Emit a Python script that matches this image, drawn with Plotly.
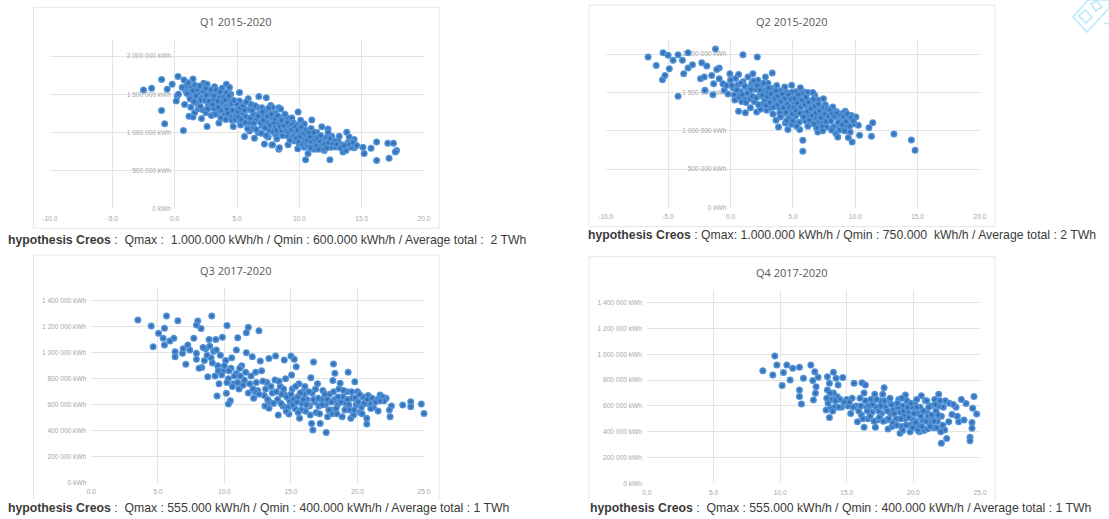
import plotly.graph_objects as go

W, H = 1109, 519

q1_title = "Q1 2015-2020"
q2_title = "Q2 2015-2020"
q3_title = "Q3 2017-2020"
q4_title = "Q4 2017-2020"

# (temperature, thousand kWh)
q1_points = [(-2.5,1557),(-1.85,1580),(-1.05,1695),(-1.05,1288),(-0.8,1115),(0.7,1027),(-0.6,1566),(-0.2,1632),(0.27,1734),(0.2,1478),
(0.13,1412),(0.3,1500),(0.75,1686),(1.47,1700),(0.95,1610),(1.35,1588),(0.8,1367),(2.33,1646),(2.6,1632),(3.2,1600),(4.15,1632),(1.2,1478),
(1.9,1522),(2.15,1456),(2.8,1500),(3.35,1500),(4.15,1522),(4.3,1434),(1.75,1390),(2.7,1367),(3.4,1354),(4.0,1367),(4.4,1345),(1.15,1213),
(1.47,1204),(2.15,1182),(2.6,1080),(3.55,1124),(2.95,1222),(3.4,1257),(4.0,1243),(4.7,1080),(5.2,1146),(5.2,1522),(5.2,1412),(5.9,1443),
(6.15,1367),(6.75,1470),(7.35,1456),(7.0,1323),(7.7,1354),(8.35,1323),(4.95,1301),(5.6,948),(6.4,926),(7.2,850),(8.35,780),(7.8,837),
(6.3,1058),(9.9,1270),(11,1164),(10.95,1053),(11.8,1074),(12.3,1045),(12.3,1000),(13.8,1004),(14,943),(14.4,910),(13.2,950),(16.2,877),
(17.1,860),(17.55,860),(17.8,766),(17.7,746),(17.2,664),(16.2,635),(12.45,643),(10.5,643),(8.4,800),(7.85,840),(8.5,1307),(7.85,1328),
(15.1,807),(15.75,795),(15.2,725),(13.5,746),(13.75,766),(14.4,800),(9.3,950),(9.6,890),(9.87,787),(10.4,807),(10.7,725),(11.07,787),
(12,766),(12.55,807),(13.1,890),(9.3,1156),(9.05,1188),(8.1,971),(8.8,1033),(10,992),(10.3,910),(10.67,828),(11.3,869),(11.75,910),
(12.15,930),(12.8,890),(13.9,869),(14.15,807),(0.9,1540),(1.1,1650),(1.6,1620),(1.8,1560),(2.0,1610),(2.3,1540),(2.5,1580),(2.9,1560),
(3.1,1430),(3.3,1560),(3.6,1450),(3.8,1580),(3.9,1460),(4.4,1590),(4.5,1500),(1.3,1330),(1.6,1260),(1.9,1310),(2.2,1300),(2.5,1260),
(2.9,1320),(3.2,1310),(3.7,1290),(4.2,1300),(4.5,1210),(4.6,1160),(4.9,1220),(5.0,1370),(5.4,1250),(5.7,1210),(5.9,1300),(6.0,1130),
(6.3,1240),(6.5,1160),(6.6,1330),(6.8,1250),(7.0,1090),(7.2,1210),(7.3,1290),(7.4,1130),(7.6,1030),(7.8,1190),(8.0,1080),(8.1,1250),
(8.3,1130),(8.5,1020),(8.7,1200),(8.9,1110),(9.0,960),(9.2,1070),(9.4,1190),(9.5,1130),(9.6,1010),(9.8,1100),(10.1,1160),(10.2,1020),
(10.4,1110),(10.6,960),(10.8,880),(11.1,950),(11.4,1000),(11.6,830),(12.0,880),(6.0,1020),(6.7,1000),(7.5,940),(8.2,920),(5.3,1100),
(9.1,840),(10.0,850),(11.2,780),(11.9,820),(12.6,950),(13.4,840),
(0.6,1590),(1.0,1510),(1.25,1440),(1.45,1545),(1.55,1405),(1.7,1480),(2.05,1345),(2.1,1425),(2.45,1420),(2.55,1490),(2.65,1310),(2.75,1410),
(3.05,1365),(3.15,1480),(3.25,1240),(3.45,1410),(3.5,1330),(3.65,1530),(3.7,1190),(3.85,1395),(4.05,1425),(4.1,1170),(4.25,1250),(4.35,1480),
(4.55,1380),(4.65,1290),(4.75,1420),(4.85,1170),(5.05,1270),(5.1,1200),(5.25,1320),(5.35,1165),(5.5,1350),(5.6,1290),(5.65,1130),(5.75,1400),
(5.85,1050),(6.05,1190),(6.2,1290),(6.35,1120),(6.45,1350),(6.55,1040),(6.7,1215),(6.9,1130),(6.95,990),(7.05,1270),(7.1,1160),(7.25,1060),
(7.35,960),(7.45,1210),(7.55,1320),(7.65,1100),(7.75,1240),(7.9,1010),(7.95,1130),(8.05,1180),(8.15,1030),(8.25,1220),(8.45,1080),(8.55,1160),
(8.65,960),(8.75,1090),(8.85,1240),(8.95,1020),(9.05,1130),(9.15,1010),(9.25,900),(9.35,1040),(9.45,1100),(9.55,950),(9.65,1070),(9.75,930),
(9.85,1030),(9.95,880),(10.05,950),(10.15,1070),(10.25,850),(10.35,990),(10.45,880),(10.55,1030),(10.65,900),(10.75,1000),(10.85,940),(10.9,800),
(11.0,880),(11.15,1000),(11.25,900),(11.35,830),(11.45,930),(11.55,780),(11.65,880),(11.7,960),(11.85,840),(11.95,780),(12.05,850),(12.2,800),
(12.35,870),(12.45,920),(12.7,850),(12.9,810),(13.0,845),(13.3,800),(13.6,830),(14.0,850),(14.3,870),(14.6,830)]

q2_points = [(-6.6,1961),(-5.95,1852),(-5.4,2017),(-5,1983),(-5.45,1666),(-5.25,1722),(-4.9,1809),(-4.6,1918),(-4.2,1991),(-3.4,2017),
(-3.85,1918),(-3.75,1744),(-3.4,1818),(-3.05,1861),(-4.2,1449),(-2.3,1887),(-1.9,1844),(-1.2,2065),(1,1991),(2.15,1961),(-2.4,1679),
(-2.05,1527),(-1.4,1470),(-1.5,1722),(-0.9,1818),(-0.9,1679),(-1.35,1614),(-0.6,1614),(-0.5,1527),(-0.05,1744),(0.65,1735),(1.8,1744),
(3.35,1753),(2.8,1700),(0.65,1253),(1.2,1236),(2.1,1245),(2.9,1267),(3.65,1136),(3.85,1050),(4.6,1015),(4.9,1084),(5.55,1015),(5.8,876),
(5.8,733),(7,984),(7.7,1050),(8.45,963),(8.6,920),(9.6,984),(9.75,854),(9.45,911),(10.35,941),(11.3,928),(10.25,1071),(10.05,1180),
(11.4,1106),(11.1,1041),(13.1,958),(14.5,880),(14.8,746),(4.9,1592),(4.35,1570),(5.9,1505),(6.75,1462),(7.45,1418),(8.2,1310),(9.2,1253),
(9.3,1201),(-2.1,1700),(-1.1,1800),(-0.3,1590),(0.0,1660),(0.2,1560),(0.3,1470),(0.4,1680),(0.6,1600),(0.8,1510),(1.0,1640),(1.1,1420),
(1.3,1560),(1.4,1700),(1.5,1480),(1.7,1620),(1.9,1380),(2.0,1540),(2.2,1660),(2.3,1450),(2.5,1590),(2.6,1350),(2.8,1520),(3.0,1620),
(3.1,1420),(3.2,1300),(3.3,1550),(3.5,1480),(3.6,1380),(3.7,1590),(3.9,1300),(4.0,1520),(4.1,1430),(4.2,1220),(4.3,1340),(4.5,1500),
(4.6,1390),(4.7,1170),(4.8,1270),(5.0,1460),(5.1,1350),(5.2,1190),(5.3,1420),(5.4,1280),(5.5,1110),(5.6,1360),(5.7,1490),(5.9,1230),
(6.0,1130),(6.1,1410),(6.2,1310),(6.3,1190),(6.4,1090),(6.5,1370),(6.6,1260),(6.8,1160),(6.9,1040),(7.0,1400),(7.1,1300),(7.2,1220),
(7.3,1090),(7.5,1170),(7.6,1340),(7.8,1240),(7.9,1130),(8.0,1200),(8.3,1180),(8.4,1060),(8.5,1250),(8.7,1190),(8.8,1040),(8.9,1150),
(9.0,1230),(9.1,1100),(9.3,1050),(9.5,1150),(9.7,1200),(9.9,1090),(4.4,1100),(5.2,1510),(5.6,1560),(6.2,1500),(3.0,1500),(1.6,1300),(0.9,1380),
(2.4,1280),(3.4,1220),(4.9,1500),(6.6,1500),
(-0.2,1480),(0.1,1590),(0.35,1400),(0.5,1530),(0.7,1440),(0.85,1620),(0.95,1470),(1.15,1580),(1.25,1370),(1.35,1490),(1.55,1420),(1.65,1540),
(1.75,1450),(1.85,1650),(2.05,1430),(2.15,1590),(2.25,1340),(2.35,1530),(2.55,1460),(2.65,1620),(2.75,1400),(2.85,1330),(2.95,1440),(3.05,1560),
(3.15,1370),(3.25,1480),(3.45,1310),(3.55,1420),(3.65,1520),(3.75,1340),(3.8,1450),(3.95,1230),(4.05,1380),(4.15,1480),(4.25,1300),(4.35,1420),
(4.45,1240),(4.55,1350),(4.65,1470),(4.75,1310),(4.85,1410),(4.95,1220),(5.05,1300),(5.15,1420),(5.25,1260),(5.35,1360),(5.45,1470),(5.55,1230),
(5.65,1310),(5.75,1400),(5.85,1180),(5.95,1340),(6.05,1440),(6.15,1250),(6.25,1370),(6.35,1140),(6.45,1290),(6.55,1200),(6.65,1410),(6.75,1320),
(6.85,1230),(6.95,1110),(7.05,1350),(7.15,1260),(7.25,1170),(7.35,1050),(7.45,1300),(7.55,1220),(7.65,1120),(7.75,1290),(7.85,1190),(7.95,1270),
(8.05,1130),(8.15,1220),(8.25,1050),(8.35,1190),(8.55,1230),(8.65,1110),(8.75,1010),(8.85,1200),(8.95,1080),(9.05,1180),(9.15,1000),(9.25,1120),
(9.35,1220),(9.55,1060),(9.65,1170),(9.85,1130),(5.0,1130),(5.3,1060),(6.2,1060),(6.7,1090),(7.4,1000),(8.1,1010),(4.0,1180),(4.5,1130)]

q3_points = [(3.5,1251),(4.5,1205),(4.65,1046),(5.65,1282),(6.5,1246),(8,1243),(7.9,1213),(8.25,1185),(9.05,1282),(10.2,1208),(11.8,1195),
(11.65,1154),(12.6,1169),(11,1115),(9.85,1118),(5.5,1187),(5.05,1149),(5.4,1110),(5.5,1059),(6.2,1110),(7.7,1110),(8.85,1102),(9.35,1102),
(6.3,1008),(6.3,969),(6.85,995),(7.25,1059),(7.1,910),(7.9,995),(7.9,949),(8.3,885),(8.75,815),(9.45,667),(10.15,687),(10.45,631),(10.3,605),
(10.9,1020),(11.65,1000),(12.1,969),(12.7,936),(13.35,956),(13.85,974),(14.5,944),(15,974),(15.25,949),(15.4,892),(16.7,928),(18.2,913),
(18.3,841),(19.3,849),(18.15,785),(19.8,777),(18.7,764),(16.5,808),(15.05,828),(23.4,597),(24,623),(24,585),(24.8,605),(25,533),(22.55,590),
(22.4,559),(22.45,508),(21.7,674),(22.15,649),(21.55,551),(20.7,451),(20.7,495),(20.95,605),(18.85,508),(19.5,495),(17.75,508),(17.65,387),
(16.65,405),(17.2,456),(16.55,456),(15.65,495),(14.85,528),(14.05,520),(13.35,572),(5.9,1090),(6.9,1030),(7.4,1020),(8.6,1030),(8.9,1050),
(9.0,960),(9.2,1010),(9.5,900),(9.7,980),(9.9,860),(10.1,940),(10.3,800),(10.5,880),(10.7,760),(10.9,840),(11.1,720),(11.3,900),(11.5,790),
(11.8,690),(12.0,820),(12.2,650),(12.4,770),(12.5,710),(12.8,860),(13.0,670),(13.2,770),(13.4,620),(13.6,690),(13.8,790),(14.0,640),(14.2,740),
(14.4,590),(14.5,680),(14.6,800),(14.9,630),(15.1,720),(15.3,570),(15.5,660),(15.6,760),(15.8,610),(15.9,700),(16.1,550),(16.2,640),(16.4,590),
(16.6,690),(16.8,620),(16.9,540),(17.0,760),(17.3,640),(17.4,710),(17.6,600),(17.9,680),(18.0,560),(18.3,640),(18.5,600),(18.6,720),(18.9,660),
(19.1,610),(19.2,700),(19.4,560),(19.6,650),(19.9,600),(20.0,700),(20.2,540),(20.4,660),(20.6,610),(20.8,670),(21.2,580),(21.5,640),(21.9,660),
(22.0,630),(8.1,880),(8.5,940),(9.3,820),(9.6,760),(10.6,740),(11.2,820),(12.3,700),(14.3,680),(15.2,640),(16.0,680),(17.1,590),(18.1,530),
(19.7,520),(20.3,580),
(8.4,1040),(8.7,980),(9.1,920),(9.4,1020),(9.55,860),(9.8,830),(10.0,900),(10.2,770),(10.35,860),(10.55,960),(10.75,820),(11.0,770),(11.15,880),
(11.4,750),(11.6,850),(11.9,760),(12.15,720),(12.35,850),(12.6,680),(12.9,780),(13.1,720),(13.25,640),(13.5,740),(13.7,610),(13.9,700),(14.1,780),
(14.25,610),(14.45,720),(14.7,660),(14.8,580),(15.0,680),(15.15,600),(15.35,740),(15.45,620),(15.7,690),(15.75,560),(15.95,640),(16.05,740),
(16.25,600),(16.35,700),(16.45,520),(16.7,640),(16.85,720),(17.05,650),(17.15,530),(17.35,600),(17.55,680),(17.75,640),(17.85,560),(18.05,620),
(18.2,700),(18.4,570),(18.55,660),(18.75,620),(18.95,710),(19.05,560),(19.25,640),(19.35,600),(19.55,700),(19.75,560),(19.85,650),(20.05,620),
(20.15,680),(20.35,530),(20.5,610),(20.75,640),(21.0,570),(21.1,650),(21.35,620),(21.7,630),(13.05,590),(14.65,550),(15.55,540),(16.15,600),(18.45,530)]

q4_points = [(8.7,873),(9.45,840),(9.6,987),(9.75,917),(10.15,757),(10.25,858),(10.5,917),(10.75,801),(10.95,891),(11.45,899),(11.75,814),
(11.45,723),(11.45,672),(11.6,615),(12.3,917),(12.6,865),(12.85,821),(12.45,796),(12.7,749),(12.65,698),(12.5,646),(13.7,775),(14,860),
(13.55,826),(14.2,814),(14.7,819),(14.35,762),(15.55,775),(16.15,780),(16.4,762),(17.8,741),(13.55,723),(13.45,568),(13.7,509),(13.8,581),
(24.55,672),(24.45,581),(24.75,537),(24.4,472),(24.4,426),(24.25,356),(24.25,330),(22.1,310),(22.5,348),(22.35,413),(21.9,691),(20.6,679),
(19.4,684),(23.6,650),(23.95,619),(23.2,590),(22.65,477),(22.9,534),(23.4,477),(23.8,490),(19,387),(19.75,400),(20.45,400),(16.3,434),
(17.15,434),(18.1,421),(15.8,477),(13.9,650),(14.1,590),(14.3,670),(14.6,590),(15.0,650),(15.3,540),(15.4,660),(15.7,600),(16.0,660),(16.1,530),
(16.3,700),(16.5,590),(16.6,500),(16.8,650),(16.9,550),(17.1,690),(17.2,590),(17.3,490),(17.5,640),(17.6,540),(17.7,690),(17.9,590),(18.0,490),
(18.2,640),(18.3,540),(18.4,440),(18.6,600),(18.7,500),(18.9,650),(19.0,550),(19.1,440),(19.2,600),(19.4,500),(19.5,640),(19.6,550),(19.7,450),
(19.9,590),(20.0,490),(20.1,620),(20.3,540),(20.4,450),(20.5,590),(20.7,490),(20.8,410),(20.9,640),(21.0,550),(21.2,470),(21.3,600),(21.4,510),
(21.5,430),(21.7,560),(21.8,480),(21.9,600),(22.1,520),(22.2,450),(22.4,640),(22.7,620),(23.0,610),(23.3,520),(16.7,600),(17.4,560),(18.5,570),
(19.3,530),(20.2,480),(21.1,520),(21.6,650),(15.1,600),(14.0,700),(13.5,660),(14.5,650),
(13.6,620),(13.75,700),(13.95,560),(14.15,640),(14.4,590),(14.8,630),(15.2,630),(15.5,590),(15.9,560),(16.05,600),(16.2,500),(16.4,640),(16.55,560),
(16.75,520),(16.95,610),(17.05,480),(17.25,650),(17.45,510),(17.55,600),(17.75,480),(17.85,640),(18.05,560),(18.15,500),(18.35,610),(18.45,470),
(18.55,540),(18.75,450),(18.85,590),(19.05,500),(19.2,410),(19.25,560),(19.45,450),(19.55,590),(19.65,510),(19.8,620),(19.95,430),(20.05,540),
(20.15,470),(20.25,590),(20.35,410),(20.55,520),(20.65,440),(20.75,560),(20.95,480),(21.05,420),(21.15,590),(21.25,440),(21.35,530),(21.55,480),
(21.65,610),(21.75,430),(21.85,530),(22.0,640),(22.05,400),(22.25,590),(18.25,660),(18.8,620),(19.15,660),(20.25,650),(21.0,640)]

x_ticks_q12 = [-10, -5, 0, 5, 10, 15, 20]
x_labels_q12 = ["-10.0", "-5.0", "0.0", "5.0", "10.0", "15.0", "20.0"]
y_ticks_q12 = [0, 500, 1000, 1500, 2000]
y_labels_q12 = ["0 kWh", "500 000 kWh", "1 000 000 kWh", "1 500 000 kWh", "2 000 000 kWh"]
x_ticks_q34 = [0, 5, 10, 15, 20, 25]
x_labels_q34 = ["0.0", "5.0", "10.0", "15.0", "20.0", "25.0"]
y_ticks_q34 = [0, 200, 400, 600, 800, 1000, 1200, 1400]
y_labels_q34 = ["0 kWh", "200 000 kWh", "400 000 kWh", "600 000 kWh", "800 000 kWh", "1 000 000 kWh", "1 200 000 kWh", "1 400 000 kWh"]

cap1 = "<b>hypothesis Creos</b> :  Qmax :  1.000.000 kWh/h / Qmin : 600.000 kWh/h / Average total :  2 TWh"
cap2 = "<b>hypothesis Creos</b> : Qmax: 1.000.000 kWh/h / Qmin : 750.000  kWh/h / Average total : 2 TWh"
cap3 = "<b>hypothesis Creos</b> :  Qmax : 555.000 kWh/h / Qmin : 400.000 kWh/h / Average total : 1 TWh"
cap4 = "<b>hypothesis Creos</b> :  Qmax : 555.000 kWh/h / Qmin : 400.000 kWh/h / Average total : 1 TWh"


def px(v):
    return v / W


def py(v):
    return 1 - v / H


panels = [
    dict(points=q1_points, title=q1_title, caption=cap1, xt=x_ticks_q12, xl=x_labels_q12, yt=y_ticks_q12, yl=y_labels_q12,
         xr=[-10, 20], yr=[0, 2210], plot=(50, 424, 40, 209), frame=(33.5, 439, 7.3, 228.3), closed=True,
         cap_xy=(7.5, 239.5), title_y=22, ypos=175),
    dict(points=q2_points, title=q2_title, caption=cap2, xt=x_ticks_q12, xl=x_labels_q12, yt=y_ticks_q12, yl=y_labels_q12,
         xr=[-10, 20], yr=[0, 2200], plot=(605.7, 980, 38.7, 207.5), frame=(589, 995, 5, 226.7), closed=True,
         cap_xy=(588, 235), title_y=21.5, ypos=730.5),
    dict(points=q3_points, title=q3_title, caption=cap3, xt=x_ticks_q34, xl=x_labels_q34, yt=y_ticks_q34, yl=y_labels_q34,
         xr=[0, 25], yr=[0, 1495], plot=(91.3, 424, 288.3, 482.7), frame=(33.5, 439, 255, 499), closed=False,
         cap_xy=(7.5, 507.5), title_y=270.5, ypos=None),
    dict(points=q4_points, title=q4_title, caption=cap4, xt=x_ticks_q34, xl=x_labels_q34, yt=y_ticks_q34, yl=y_labels_q34,
         xr=[0, 25], yr=[0, 1498], plot=(646.9, 980, 290, 483.3), frame=(589, 995, 256.7, 501), closed=False,
         cap_xy=(590, 507.5), title_y=272, ypos=None),
]

fig = go.Figure()
shapes, annotations = [], []
GRID = "#e4e4e4"
FRAME = "#e6e6e6"
TICK = dict(family="Liberation Sans", size=6.6, color="#a6a6a6")
layout_axes = {}

for i, p in enumerate(panels, start=1):
    temp = [a for a, _ in p["points"]]
    kwh = [b for _, b in p["points"]]
    xa, ya = f"x{i}", f"y{i}"
    fig.add_trace(go.Scatter(
        x=temp, y=kwh, xaxis=xa, yaxis=ya, mode="markers", showlegend=False,
        cliponaxis=False,
        marker=dict(size=7, color="#5a9be0", gradient=dict(type="radial", color="#2a64a8"),
                    line=dict(width=0)),
    ))
    x0, x1, top, bottom = p["plot"]
    xname, yname = f"xaxis{i}", f"yaxis{i}"
    layout_axes[xname] = dict(
        domain=[px(x0), px(x1)], range=p["xr"], anchor=ya, tickmode="array", tickvals=p["xt"], ticktext=p["xl"],
        showgrid=True, gridcolor=GRID, gridwidth=1, zeroline=False, showline=False, ticks="", automargin=False,
        tickfont=TICK, layer="below traces", ticklabelstandoff=4,
    )
    yaxis = dict(
        domain=[py(bottom), py(top)], range=p["yr"], tickmode="array", tickvals=p["yt"], ticktext=p["yl"],
        showgrid=True, gridcolor=GRID, gridwidth=1, zeroline=False, showline=False, ticks="", automargin=False,
        tickfont=TICK, layer="below traces", ticklabelstandoff=4,
    )
    if p["ypos"] is not None:
        yaxis.update(anchor="free", position=px(p["ypos"]))
    else:
        yaxis.update(anchor=xa)
    layout_axes[yname] = yaxis

    fx0, fx1, fy0, fy1 = p["frame"]
    if p["closed"]:
        path = f"M {px(fx0)} {py(fy1)} L {px(fx0)} {py(fy0)} L {px(fx1)} {py(fy0)} L {px(fx1)} {py(fy1)} Z"
    else:
        path = f"M {px(fx0)} {py(fy1)} L {px(fx0)} {py(fy0)} L {px(fx1)} {py(fy0)} L {px(fx1)} {py(fy1)}"
    shapes.append(dict(type="path", path=path, xref="paper", yref="paper", line=dict(color=FRAME, width=1), layer="below"))

    annotations.append(dict(text=p["title"], x=px((fx0 + fx1) / 2), y=py(p["title_y"]), xref="paper", yref="paper",
                            xanchor="center", yanchor="middle", showarrow=False,
                            font=dict(family="Open Sans", size=11, color="#595959")))
    annotations.append(dict(text=p["caption"], x=px(p["cap_xy"][0]), y=py(p["cap_xy"][1]), xref="paper", yref="paper",
                            xanchor="left", yanchor="middle", showarrow=False, borderpad=0, borderwidth=0,
                            font=dict(family="Liberation Sans", size=12.25, color="#3a3a3a")))

# stamp in the top right corner
STAMP = "#bdeafb"
stamp_paths = [
    [(1073, 17), (1088, 0), (1109, 0), (1109, 8), (1087, 32)],
    [(1079, 16), (1085, 10), (1092, 17), (1086, 23)],
    [(1091, 4), (1097, 1), (1102, 7), (1096, 11)],
]
for pts in stamp_paths:
    d = "M " + " L ".join(f"{px(a)} {py(b)}" for a, b in pts) + " Z"
    shapes.append(dict(type="path", path=d, xref="paper", yref="paper", line=dict(color=STAMP, width=1.6)))
shapes.append(dict(type="line", x0=px(1104), x1=px(1109), y0=py(23.5), y1=py(23.5), xref="paper", yref="paper",
                   line=dict(color=STAMP, width=1.6)))

fig.update_layout(
    width=W, height=H, margin=dict(l=0, r=0, t=0, b=0, autoexpand=False), paper_bgcolor="white", plot_bgcolor="white",
    shapes=shapes, annotations=annotations, showlegend=False, **layout_axes,
)
fig.write_html("out.html", post_script="document.body.style.margin='0';", config=dict(displayModeBar=False))
